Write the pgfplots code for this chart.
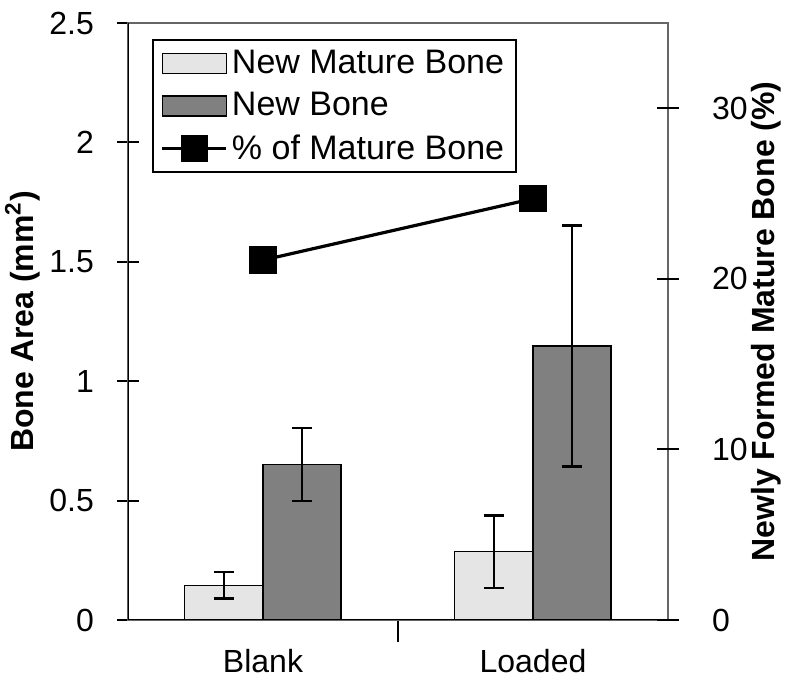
\documentclass[border=0pt]{standalone}
\usepackage{fontspec}
\setmainfont{Liberation Sans}
\usepackage{pgfplots}
\pgfplotsset{compat=1.18}
\definecolor{lightbar}{gray}{0.9}
\definecolor{darkbar}{gray}{0.5}
\newcommand{\bigfont}{\fontsize{16}{19}\selectfont}
\pgfplotsset{linelegend/.style={legend image code/.code={\draw[mark repeat=2, mark phase=2, ##1] plot coordinates {(0pt,0pt) (16pt,0pt) (32pt,0pt)};}}}
\begin{document}
\begin{tikzpicture}
\useasboundingbox (-64pt,-29.5pt) rectangle (330pt,310pt);
\begin{axis}[name=ax, scale only axis, width=270pt, height=298.5pt,
  at={(0pt,0pt)}, anchor=south west,
  xmin=-0.5, xmax=1.5, ymin=0, ymax=2.5,
  axis line style={black!60, line width=0.7pt},
  xtick pos=left, ytick pos=left,
  xtick={0,1}, xticklabels={Blank,Loaded},
  major x tick style={draw=none},
  minor xtick={0.5}, minor x tick style={draw=black, line width=1pt},
  minor tick length=11pt,
  ytick={0,0.5,1,1.5,2,2.5},
  y tick style={black, line width=1pt},
  tick align=center, major tick length=11pt,
  /pgf/number format/assume math mode=true,
  tick label style={font=\bigfont},
  yticklabel style={xshift=-8pt},
  ylabel={Bone Area (mm\textsuperscript{2})},
  ylabel style={font=\bigfont\bfseries, yshift=-2pt},
  ybar=0pt, bar width=0.29,
]
\addplot[fill=lightbar, draw=black, line width=0.8pt,
  error bars/.cd, y dir=both, y explicit,
  error bar style={line width=1.2pt, black},
  error mark options={rotate=90, mark size=5pt, line width=1.2pt, black}]
  coordinates {(0,0.145) +- (0,0.055) (1,0.286) +- (0,0.152)};
\addplot[fill=darkbar, draw=black, line width=0.8pt,
  error bars/.cd, y dir=both, y explicit,
  error bar style={line width=1.2pt, black},
  error mark options={rotate=90, mark size=5pt, line width=1.2pt, black}]
  coordinates {(0,0.651) +- (0,0.152) (1,1.147) +- (0,0.505)};
\draw[black, line width=1.4pt] (rel axis cs:0,1) -- (rel axis cs:0,0) -- (rel axis cs:1.02,0);
\end{axis}
\begin{axis}[scale only axis, width=270pt, height=298.5pt,
  at={(0pt,0pt)}, anchor=south west,
  xmin=-0.5, xmax=1.5, ymin=0, ymax=35,
  axis line style={draw=none},
  xtick=\empty, ytick={0,10,20,30},
  ytick pos=right, yticklabel pos=right, ylabel near ticks,
  y tick style={black, line width=1pt},
  tick align=center, major tick length=11pt,
  /pgf/number format/assume math mode=true,
  tick label style={font=\bigfont},
  yticklabel style={xshift=13pt},
  ylabel={Newly Formed Mature Bone (\%)},
  ylabel style={font=\bigfont\bfseries, yshift=5pt},
  legend style={at={(0.044,0.973)}, anchor=north west, font=\fontsize{17}{19}\selectfont,
    draw=black, line width=1pt, row sep=4pt, inner xsep=4pt, inner ysep=3pt},
  legend cell align=left,
]
\addlegendimage{legend image code/.code={\draw[fill=lightbar, draw=black, line width=0.8pt] (0pt,-5pt) rectangle (32pt,5pt);}}
\addlegendentry{New Mature Bone}
\addlegendimage{legend image code/.code={\draw[fill=darkbar, draw=black, line width=0.8pt] (0pt,-5pt) rectangle (32pt,5pt);}}
\addlegendentry{New Bone}
\addplot[black, line width=1.6pt, mark=square*, mark size=6pt, linelegend]
  coordinates {(0,21.1) (1,24.7)};
\addlegendentry{\% of Mature Bone}
\end{axis}
\end{tikzpicture}
\end{document}
